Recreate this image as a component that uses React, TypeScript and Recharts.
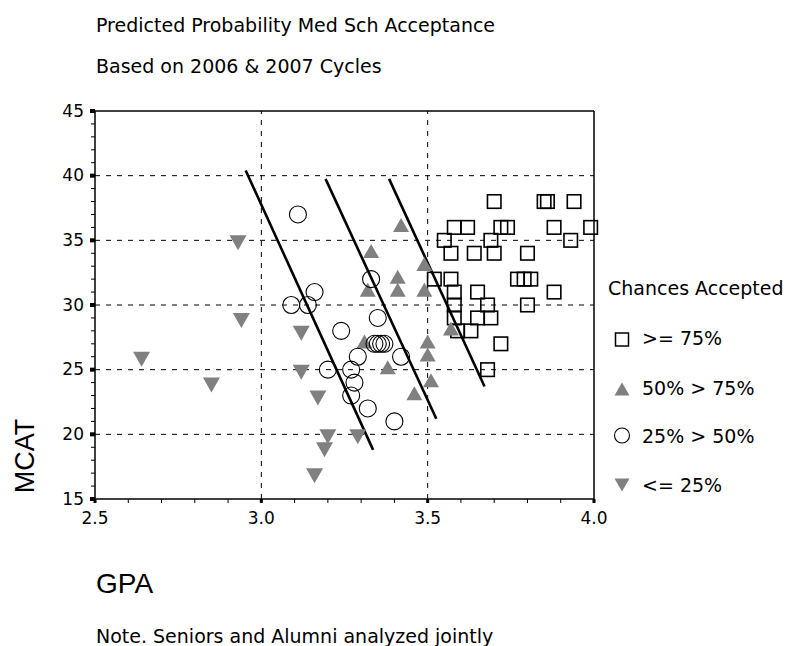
import React from "react";
import { ScatterChart, Scatter, XAxis, YAxis, ReferenceLine } from "recharts";

// axis ticks and grid
const xMajorTicks = [2.5, 3.0, 3.5, 4.0];
const yMajorTicks = [15, 20, 25, 30, 35, 40, 45];
const xGridLines = [3.0, 3.5];
const yGridLines = [20, 25, 30, 35, 40];

// [GPA, MCAT] per predicted-chance group
const over75 = [
  [3.70, 38], [3.85, 38], [3.86, 38], [3.94, 38],
  [3.58, 36], [3.62, 36], [3.72, 36], [3.74, 36], [3.88, 36], [3.99, 36],
  [3.55, 35], [3.69, 35], [3.93, 35],
  [3.57, 34], [3.64, 34], [3.70, 34], [3.80, 34],
  [3.52, 32], [3.57, 32], [3.77, 32], [3.79, 32], [3.81, 32],
  [3.58, 31], [3.65, 31], [3.88, 31],
  [3.58, 30], [3.68, 30], [3.80, 30],
  [3.58, 29], [3.65, 29], [3.69, 29],
  [3.59, 28], [3.63, 28],
  [3.72, 27],
  [3.68, 25],
];
const from50to75 = [
  [3.42, 36], [3.33, 34], [3.32, 31], [3.41, 32], [3.41, 31], [3.49, 33],
  [3.49, 31], [3.57, 28], [3.50, 27], [3.50, 26], [3.51, 24], [3.38, 25],
  [3.46, 23], [3.31, 27],
];
const from25to50 = [
  [3.11, 37], [3.09, 30], [3.14, 30], [3.16, 31], [3.33, 32], [3.35, 29],
  [3.24, 28], [3.34, 27], [3.35, 27], [3.36, 27], [3.37, 27], [3.29, 26],
  [3.27, 25], [3.20, 25], [3.28, 24], [3.27, 23], [3.32, 22], [3.40, 21],
  [3.42, 26],
];
const under25 = [
  [2.64, 26], [2.85, 24], [2.93, 35], [2.94, 29], [3.12, 28], [3.12, 25],
  [3.17, 23], [3.20, 20], [3.19, 19], [3.29, 20], [3.16, 17],
];

// cut-off lines: [start, end] as [GPA, MCAT]
const cutLines = [
  [[2.953, 40.4], [3.336, 18.8]],
  [[3.193, 39.75], [3.526, 21.2]],
  [[3.384, 39.75], [3.671, 23.7]],
];

const legendItems = [">= 75%", "50% > 75%", "25% > 50%", "<= 25%"];

const FONT = "DejaVu Sans";

const toPoints = (rows: number[][]) => rows.map(([x, y]) => ({ x, y }));

const xTicks: number[] = [];
for (let v = xMajorTicks[0]; v <= xMajorTicks[xMajorTicks.length - 1] + 1e-9; v += 0.1) {
  xTicks.push(Math.round(v * 10) / 10);
}
const yTicks: number[] = [];
for (let v = yMajorTicks[0]; v <= yMajorTicks[yMajorTicks.length - 1]; v += 1) yTicks.push(v);

const isMajorX = (v: number) => xMajorTicks.some((m) => Math.abs(m - v) < 1e-6);
const isMajorY = (v: number) => yMajorTicks.includes(v);

function XTick(props: any) {
  const { x, y, payload } = props;
  const v = payload.value;
  if (isMajorX(v)) {
    return (
      <g>
        <rect x={x - 1.5} y={y} width={3} height={4} fill="#000" />
        <text x={x} y={y + 25} textAnchor="middle" fontSize={17} fontFamily={FONT} fill="#000">
          {v.toFixed(1)}
        </text>
      </g>
    );
  }
  return <line x1={x} x2={x} y1={y} y2={y + 4} stroke="#000" strokeWidth={1} />;
}

function YTick(props: any) {
  const { x, y, payload } = props;
  const v = payload.value;
  if (isMajorY(v)) {
    return (
      <g>
        <rect x={x - 5} y={y - 2} width={5} height={4} fill="#000" />
        <text x={x - 11} y={y + 5.5} textAnchor="end" fontSize={17} fontFamily={FONT} fill="#000">
          {v}
        </text>
      </g>
    );
  }
  return <line x1={x - 4} x2={x} y1={y} y2={y} stroke="#000" strokeWidth={1} />;
}

const Square = ({ cx, cy }: any) => (
  <rect x={cx - 6.75} y={cy - 6.75} width={13.5} height={13.5} fill="none" stroke="#000" strokeWidth={1.6} />
);
const Ring = ({ cx, cy }: any) => (
  <circle cx={cx} cy={cy} r={8.5} fill="none" stroke="#000" strokeWidth={1.1} />
);
const UpTri = ({ cx, cy }: any) => (
  <polygon points={`${cx - 8},${cy + 4.7} ${cx + 8},${cy + 4.7} ${cx},${cy - 9.3}`} fill="#808080" />
);
const DownTri = ({ cx, cy }: any) => (
  <polygon points={`${cx - 8.5},${cy - 5} ${cx + 8.5},${cy - 5} ${cx},${cy + 10}`} fill="#808080" />
);

function LegendSymbol({ kind, cx, cy }: { kind: number; cx: number; cy: number }) {
  if (kind === 0) return <rect x={cx - 6.5} y={cy - 6.5} width={13} height={13} fill="none" stroke="#000" strokeWidth={1.5} />;
  if (kind === 1) return <polygon points={`${cx - 7.5},${cy + 6.5} ${cx + 7.5},${cy + 6.5} ${cx},${cy - 6.5}`} fill="#808080" />;
  if (kind === 2) return <circle cx={cx} cy={cy} r={7.5} fill="none" stroke="#000" strokeWidth={1.1} />;
  return <polygon points={`${cx - 7.5},${cy - 6.5} ${cx + 7.5},${cy - 6.5} ${cx},${cy + 6.5}`} fill="#808080" />;
}

export default function App() {
  const legendRows = [339.5, 389, 435.5, 485];
  const legendBase = [345, 395, 443, 492];
  return (
    <div style={{ position: "absolute", left: 0, top: 0, width: 786, height: 646, background: "#fff" }}>
      <ScatterChart width={786} height={646} margin={{ top: 111, right: 192, bottom: 107, left: 35 }}>
        <XAxis
          type="number"
          dataKey="x"
          domain={[2.5, 4.0]}
          ticks={xTicks}
          interval={0}
          height={40}
          tickSize={0}
          tickMargin={0}
          tickLine={false}
          axisLine={{ stroke: "#000", strokeWidth: 1.5 }}
          tick={<XTick />}
        />
        <YAxis
          type="number"
          dataKey="y"
          domain={[15, 45]}
          ticks={yTicks}
          interval={0}
          width={60}
          tickSize={0}
          tickMargin={0}
          tickLine={false}
          axisLine={{ stroke: "#000", strokeWidth: 1.5 }}
          tick={<YTick />}
        />
        {yGridLines.map((v) => (
          <ReferenceLine key={`gy${v}`} y={v} stroke="#000" strokeWidth={1} strokeDasharray="5 6" />
        ))}
        {xGridLines.map((v) => (
          <ReferenceLine key={`gx${v}`} x={v} stroke="#000" strokeWidth={1} strokeDasharray="5 6" />
        ))}
        <ReferenceLine y={45} stroke="#000" strokeWidth={1.5} />
        <ReferenceLine x={4.0} stroke="#000" strokeWidth={1.5} />
        <Scatter name=">= 75%" data={toPoints(over75)} shape={Square} isAnimationActive={false} />
        <Scatter name="50% > 75%" data={toPoints(from50to75)} shape={UpTri} isAnimationActive={false} />
        <Scatter name="25% > 50%" data={toPoints(from25to50)} shape={Ring} isAnimationActive={false} />
        <Scatter name="<= 25%" data={toPoints(under25)} shape={DownTri} isAnimationActive={false} />
        {cutLines.map(([a, b], i) => (
          <ReferenceLine
            key={`cut${i}`}
            segment={[{ x: a[0], y: a[1] }, { x: b[0], y: b[1] }]}
            stroke="#000"
            strokeWidth={2.6}
            ifOverflow="visible"
          />
        ))}
      </ScatterChart>
      <svg width={786} height={646} style={{ position: "absolute", left: 0, top: 0, pointerEvents: "none" }}>
        <text x={96} y={32} fontSize={19} fontFamily={FONT} fill="#000">Predicted Probability Med Sch Acceptance</text>
        <text x={96} y={73} fontSize={19} fontFamily={FONT} fill="#000">Based on 2006 &amp; 2007 Cycles</text>
        <text x={34} y={456} transform="rotate(-90 34 456)" textAnchor="middle" fontSize={27} fontFamily="Liberation Sans" fill="#000">MCAT</text>
        <text x={96} y={593} fontSize={28} fontFamily="Liberation Sans" fill="#000">GPA</text>
        <text x={96} y={643} fontSize={19} fontFamily={FONT} fill="#000">Note. Seniors and Alumni analyzed jointly</text>
        <text x={608} y={295} fontSize={19} fontFamily={FONT} fill="#000">Chances Accepted</text>
        {legendItems.map((label, i) => (
          <g key={label}>
            <LegendSymbol kind={i} cx={622} cy={legendRows[i]} />
            <text x={642} y={legendBase[i]} fontSize={19} fontFamily={FONT} fill="#000">{label}</text>
          </g>
        ))}
      </svg>
    </div>
  );
}
